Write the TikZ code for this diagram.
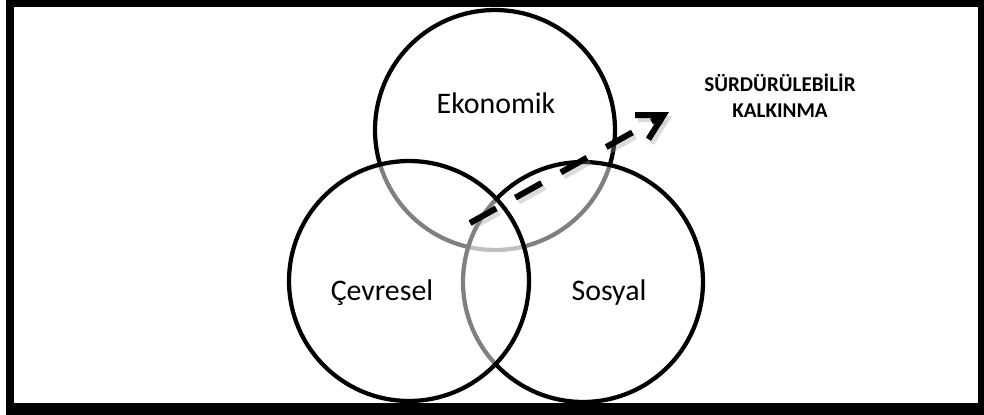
\documentclass[tikz,border=0pt]{standalone}
\usepackage{fontspec}
\setmainfont{Carlito}
\usepackage{tikz}
\usetikzlibrary{arrows.meta,positioning}

\begin{document}
\begin{tikzpicture}[x=0.02cm,y=-0.02cm,
    set/.style={circle,draw=black,line width=0.085cm,fill=white,fill opacity=0.5,
      text opacity=1,minimum size=4.8cm,inner sep=0pt},
    setname/.style={anchor=base,font=\fontsize{17}{20}\selectfont},
    goal/.style={align=center,font=\bfseries\fontsize{12}{15}\selectfont},
    dasharrow/.style={line width=0.12cm,dash pattern=on 0.6cm off 0.44cm,
      -{Straight Barb[length=0.5cm,width=0.55cm]}}]
  \useasboundingbox (0,0) rectangle (984,415);
  % frame
  \fill[black] (6,0) rectangle (984,415);
  \fill[white] (14,7) rectangle (978,403);
  % the three sets
  \node[set] (eko) at (495,130) {};
  \node[set] (sos) at (583,282) {};
  \node[set] (cev) at (409,281) {};
  \node[setname] (ekoname) at (496,114) {Ekonomik};
  \node[setname] (cevname) at (382,300) {Çevresel};
  \node[setname] (sosname) at (609,300) {Sosyal};
  % sustainable development
  \node[goal] (goal) at (780,96) {SÜRDÜRÜLEBİLİR\\KALKINMA};
  \coordinate (start) at (470,223);
  \coordinate (tip) at (669,112);
  \draw[dasharrow,draw=black!40,opacity=0.35] ([shift={(3,4)}]start) -- ([shift={(3,4)}]tip);
  \draw[dasharrow] (start) -- (tip);
\end{tikzpicture}
\end{document}
